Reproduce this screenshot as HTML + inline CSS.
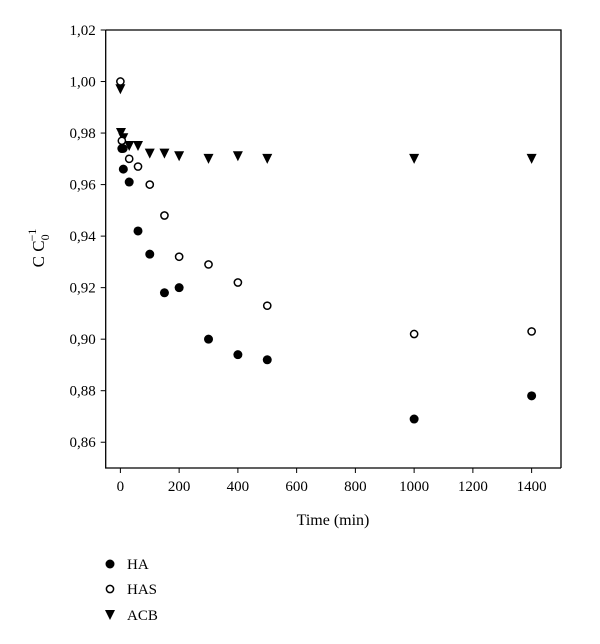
<!DOCTYPE html>
<html><head><meta charset="utf-8"><style>
html,body{margin:0;padding:0;background:#fff;}
svg{display:block;font-family:"Liberation Serif",serif;}
</style></head><body>
<svg id="chart" width="600" height="644" viewBox="0 0 600 644" xmlns="http://www.w3.org/2000/svg">
<g id="plot"></g>
<text x="333" y="525" font-size="16" text-anchor="middle">Time (min)</text>
<text transform="translate(44,248) rotate(-90)" font-size="17" text-anchor="middle">C C<tspan font-size="12" dy="5">0</tspan><tspan font-size="12" dx="-7" dy="-13">−1</tspan></text>
<g>
<g><circle cx="110" cy="564" r="4.5" fill="#000"/><text x="127" y="569" font-size="15">HA</text></g>
<g><circle cx="110" cy="589" r="3.6" fill="#fff" stroke="#000" stroke-width="1.5"/><text x="127" y="594" font-size="15">HAS</text></g>
<g><path d="M105,610 L115,610 L110,620 Z" fill="#000"/><text x="127" y="620" font-size="15">ACB</text></g>
</g>
</svg>
<script>
const haX=[5,10,30,60,100,150,200,300,400,500,1000,1400];
const haY=[0.974,0.966,0.961,0.942,0.933,0.918,0.920,0.900,0.894,0.892,0.869,0.878];
const hasX=[0,5,10,30,60,100,150,200,300,400,500,1000,1400];
const hasY=[1.000,0.977,0.974,0.970,0.967,0.960,0.948,0.932,0.929,0.922,0.913,0.902,0.903];
const acbX=[0,2,10,30,60,100,150,200,300,400,500,1000,1400];
const acbY=[0.997,0.980,0.978,0.975,0.975,0.972,0.972,0.971,0.970,0.971,0.970,0.970,0.970];
const xTicks=[0,200,400,600,800,1000,1200,1400];
const yTicks=[0.86,0.88,0.90,0.92,0.94,0.96,0.98,1.00,1.02];
const L=105.7,R=561,T=30,B=468,x0=-50,x1=1500,y0=0.85,y1=1.02;
const sx=v=>L+(v-x0)/(x1-x0)*(R-L);
const sy=v=>B-(v-y0)/(y1-y0)*(B-T);
const NS="http://www.w3.org/2000/svg";
const g=document.getElementById('plot');
function mk(t,a){const e=document.createElementNS(NS,t);for(const k in a)e.setAttribute(k,a[k]);g.appendChild(e);return e;}
const ax=mk('path',{d:`M${L},${T} L${L},${B} L${R},${B}`,fill:'none',stroke:'#000','stroke-width':1.3});


const topBorder=mk('path',{d:`M${L},${T} L${R},${T} L${R},${B}`,fill:'none',stroke:'#000','stroke-width':1.3});


xTicks.forEach(v=>{const x=sx(v);
 const t=mk('line',{x1:x,x2:x,y1:B,y2:B+5,stroke:'#000','stroke-width':1});
 
 
 const l=mk('text',{x:x,y:B+23,'font-size':15,'text-anchor':'middle'});l.textContent=v;
 
 });
yTicks.forEach(v=>{const y=sy(v);
 const t=mk('line',{x1:L-5,x2:L,y1:y,y2:y,stroke:'#000','stroke-width':1});
 
 
 const l=mk('text',{x:L-10,y:y+5,'font-size':15,'text-anchor':'end'});l.textContent=v.toFixed(2).replace('.',',');
 
 });
acbX.forEach((v,i)=>{const x=sx(v),y=sy(acbY[i]);
 const p=mk('path',{d:`M${x-5},${y-5} L${x+5},${y-5} L${x},${y+5} Z`,fill:'#000'});
 
 });
hasX.forEach((v,i)=>{
 const c=mk('circle',{cx:sx(v),cy:sy(hasY[i]),r:3.6,fill:'#fff',stroke:'#000','stroke-width':1.5});
 
 });
haX.forEach((v,i)=>{
 const c=mk('circle',{cx:sx(v),cy:sy(haY[i]),r:4.5,fill:'#000'});
 
 });
</script>
</body></html>
